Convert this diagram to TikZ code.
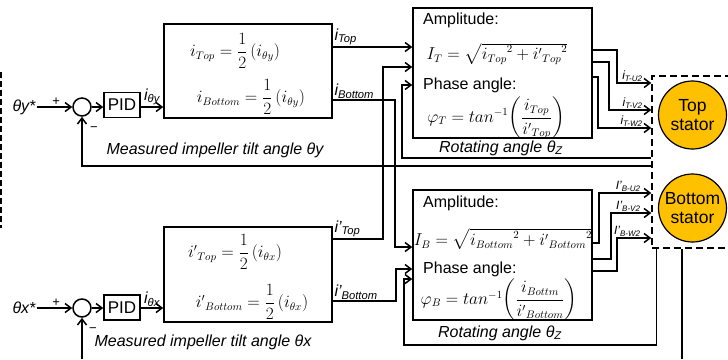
\documentclass[tikz,border=0pt]{standalone}
\usepackage{amsmath}
\usepackage[no-math]{fontspec}
\setmainfont{Liberation Sans}
\usepackage{xcolor}
\usetikzlibrary{arrows.meta,positioning}
\definecolor{statorFill}{HTML}{FFC000}
\newcommand{\sg}[2]{{\itshape #1\textsubscript{#2}}}
\tikzset{
  box/.style={rectangle, draw=black, line width=1.5pt, inner sep=0pt},
  sumnode/.style={circle, draw=black, line width=1.5pt, minimum size=18pt, inner sep=0pt},
  pidbox/.style={rectangle, draw=black, line width=1.5pt, minimum width=36pt, minimum height=25pt, inner sep=0pt, font=\fontsize{17}{20}\selectfont},
  stator/.style={circle, draw=black, line width=1.2pt, fill=statorFill, minimum size=68pt, inner sep=0pt, align=center, font=\fontsize{17.5}{19}\selectfont},
  dashbox/.style={rectangle, draw=black, line width=1.5pt, dash pattern=on 7pt off 4pt, inner sep=0pt},
  arrow/.style={-{Straight Barb[length=6pt,width=9pt]}, line width=1.5pt},
  wire/.style={line width=1.5pt},
  txt/.style={font=\fontsize{16}{19}\selectfont, inner sep=0pt},
  ital/.style={font=\fontsize{16}{19}\selectfont\itshape, inner sep=1pt},
  eq/.style={font=\fontsize{16}{19}\selectfont, inner sep=0pt},
  sig/.style={font=\fontsize{16}{19}\selectfont, inner sep=1pt},
  phase/.style={font=\fontsize{12}{14}\selectfont, inner sep=1pt},
  sgn/.style={font=\fontsize{13}{15}\selectfont, inner sep=1pt}
}
\begin{document}
\begin{tikzpicture}[x=1pt, y=-1pt]
  \useasboundingbox (0,0) rectangle (728,359);
  \node[box, minimum width=168pt, minimum height=94pt] (blkY) at (248,71) {};
  \node[box, minimum width=168pt, minimum height=95pt] (blkX) at (248,274.5) {};
  \node[box, minimum width=179pt, minimum height=130pt] (ampT) at (502.5,73) {};
  \node[box, minimum width=179pt, minimum height=130pt] (ampB) at (502.5,255) {};
  \node[dashbox, minimum width=108pt, minimum height=172pt] (stbox) at (706,162) {};
  \node[stator] (stT) at (692.5,115) {Top\\stator};
  \node[stator] (stB) at (692.5,208) {Bottom\\stator};

  \node[ital] (thY) at (24,107) {θy*};
  \node[sumnode] (sumY) at (82,107) {};
  \node[pidbox] (pidY) at (122,105) {PID};
  \node[ital] (thX) at (24,308) {θx*};
  \node[sumnode] (sumX) at (82,308) {};
  \node[pidbox] (pidX) at (122,307.5) {PID};

  \node[eq] (eqTopY) at (235,51) {$i_{Top}=\dfrac{1}{2}\left(i_{\theta y}\right)$};
  \node[eq] (eqBotY) at (251,97) {$i_{Bottom}=\dfrac{1}{2}\left(i_{\theta y}\right)$};
  \node[eq] (eqTopX) at (235,252) {${i'}_{Top}=\dfrac{1}{2}\left(i_{\theta x}\right)$};
  \node[eq] (eqBotX) at (252,302) {${i'}_{Bottom}=\dfrac{1}{2}\left(i_{\theta x}\right)$};

  \node[txt, anchor=west] (ampTa) at (423,20) {Amplitude:};
  \node[eq] (ampTf) at (497,54) {$I_T=\sqrt{{i_{Top}}^{2}+{{i'}_{Top}}^{2}}$};
  \node[txt, anchor=west] (ampTp) at (423,85) {Phase angle:};
  \node[eq] (ampTg) at (496,118) {$\varphi_T=tan^{-1}\biggl(\dfrac{i_{Top}}{{i'}_{Top}}\biggr)$};
  \node[txt, anchor=west] (ampBa) at (423,203) {Amplitude:};
  \node[eq] (ampBf) at (503,239) {$I_B=\sqrt{{i_{Bottom}}^{2}+{{i'}_{Bottom}}^{2}}$};
  \node[txt, anchor=west] (ampBp) at (423,269) {Phase angle:};
  \node[eq] (ampBg) at (499,300) {$\varphi_B=tan^{-1}\biggl(\dfrac{i_{Bottm}}{{i'}_{Bottom}}\biggr)$};

  \node[ital] (measY) at (215,150) {Measured impeller tilt angle θy};
  \node[ital] (measX) at (203,342) {Measured impeller tilt angle θx};
  \node[ital] (rotT) at (501,148) {Rotating angle θ\textsubscript{Z}};
  \node[ital] (rotB) at (500,333) {Rotating angle θ\textsubscript{Z}};
  \node[sgn] (minY) at (94,129) {−};
  \node[sgn] (minX) at (93,330) {−};

  \coordinate (fbXin) at (82,359);
  \coordinate (fbXout) at (682,359);

  \draw[arrow] (thY) -- node[sgn, above, pos=0.55] {+} (sumY);
  \draw[arrow] (sumY) -- (pidY.west |- sumY);
  \draw[arrow] (pidY.east |- sumY) -- node[sig, above] {\sg{i}{θy}} (blkY.west |- sumY);
  \draw[arrow] (thX) -- node[sgn, above, pos=0.55] {+} (sumX);
  \draw[arrow] (sumX) -- (pidX.west |- sumX);
  \draw[arrow] (pidX.east |- sumX) -- node[sig, above] {\sg{i}{θx}} (blkX.west |- sumX);

  \draw[arrow] (blkY.east |- 0,47) node[sig, above right] {\sg{i}{Top}} -- (ampT.west |- 0,47);
  \draw[arrow] (blkY.east |- 0,100) node[sig, above right] {\sg{i}{Bottom}} -| (395,247) -- (ampB.west |- 0,247);
  \draw[arrow] (blkX.east |- 0,239) node[sig, above right] {\sg{i’}{Top}} -| (383,67) -- (ampT.west |- 0,67);
  \draw[arrow] (blkX.east |- 0,301) node[sig, above right] {\sg{i’}{Bottom}} -| (396,269) -- (ampB.west |- 0,269);

  \draw[arrow] (stbox.west |- 0,158) -| (402,85) -- (ampT.west |- 0,85);
  \draw[arrow] (stbox.west |- 0,166) -| (sumY.south);
  \draw[arrow] ([xshift=5pt]stbox.south west) |- (404,345) |- (ampB.west |- 0,279);
  \draw[wire] (stbox.south west -| fbXout) -- (fbXout);
  \draw[arrow] (fbXin) -- (sumX.south);

  \draw[arrow] (ampT.east |- 0,50) -| (617,83) -- node[phase, pos=1, anchor=south east, xshift=-7pt] {\sg{i}{T-U2}} (stbox.west |- 0,83);
  \draw[arrow] (ampT.east |- 0,62) -| (609,110) -- node[phase, pos=1, anchor=south east, xshift=-7pt] {\sg{i}{T-V2}} (stbox.west |- 0,110);
  \draw[arrow] (ampT.east |- 0,77) -| (598,128) -- node[phase, pos=1, anchor=south east, xshift=-7pt] {\sg{i}{T-W2}} (stbox.west |- 0,128);
  \draw[arrow] (ampB.east |- 0,243) -| (599,193) -- node[phase, pos=1, anchor=south east, xshift=-9pt] {\sg{I’}{B-U2}} (stbox.west |- 0,193);
  \draw[arrow] (ampB.east |- 0,259) -| (611,213) -- node[phase, pos=1, anchor=south east, xshift=-9pt] {\sg{I’}{B-V2}} (stbox.west |- 0,213);
  \draw[arrow] (ampB.east |- 0,271) -| (617,238) -- node[phase, pos=1, anchor=south east, xshift=-9pt] {\sg{I’}{B-W2}} (stbox.west |- 0,238);

  \draw[line width=1.5pt, dash pattern=on 6pt off 3pt] (1,72) -- (1,228);
\end{tikzpicture}
\end{document}
